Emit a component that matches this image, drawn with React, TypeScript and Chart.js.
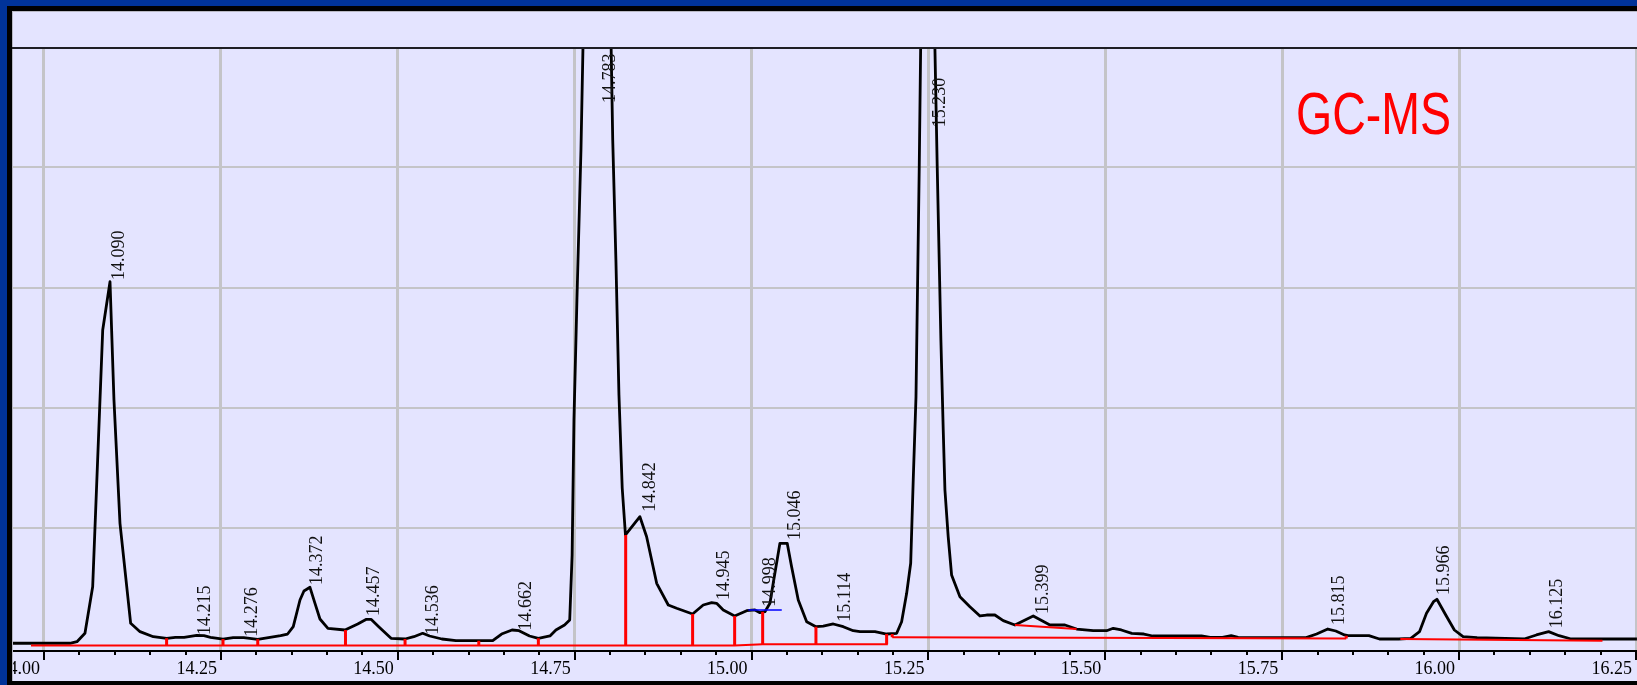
import React, { useEffect, useRef } from "react";
import { Chart, registerables } from "chart.js";

Chart.register(...registerables);

// ---- Chromatogram trace: retention time (min) and abundance (% of full scale) ----
const traceTimes: number[] = [
  13.956, 14.0367, 14.0466, 14.0579, 14.0688, 14.083, 14.0933, 14.0989, 14.1074, 14.1225,
  14.1357, 14.1545, 14.1734, 14.1857, 14.198, 14.2158, 14.2261, 14.2353, 14.253, 14.2674,
  14.2823, 14.3021, 14.3194, 14.3344, 14.3443, 14.3523, 14.3618, 14.3674, 14.3759, 14.383,
  14.39, 14.4013, 14.4254, 14.4434, 14.4557, 14.4622, 14.4731, 14.4905, 14.5103, 14.5227,
  14.5352, 14.545, 14.5623, 14.5822, 14.6342, 14.6467, 14.6615, 14.6714, 14.6862, 14.6987,
  14.7151, 14.7235, 14.7357, 14.743, 14.7464, 14.749, 14.7532, 14.7589, 14.7829, 14.8038,
  14.8083, 14.8126, 14.8172, 14.8218, 14.8422, 14.8517, 14.8659, 14.8823, 14.8941, 14.9167,
  14.9317, 14.9436, 14.9506, 14.96, 14.9761, 14.9931, 15.0048, 15.0119, 15.0189, 15.026,
  15.0306, 15.0401, 15.0504, 15.0566, 15.066, 15.0779, 15.091, 15.1013, 15.1155, 15.1296,
  15.1437, 15.1532, 15.1744, 15.1909, 15.2051, 15.2121, 15.2192, 15.2249, 15.2285, 15.2324,
  15.237, 15.2466, 15.2624, 15.2676, 15.2709, 15.2733, 15.2779, 15.2827, 15.2945, 15.3086,
  15.3228, 15.3322, 15.3439, 15.3557, 15.3722, 15.3981, 15.4217, 15.4429, 15.4594, 15.4829,
  15.5018, 15.5112, 15.5226, 15.5374, 15.5545, 15.5669, 15.6359, 15.6482, 15.6655, 15.6779,
  15.6877, 15.7839, 15.7986, 15.8144, 15.8257, 15.838, 15.843, 15.8725, 15.8874, 15.9145,
  15.9317, 15.944, 15.9539, 15.9638, 15.9686, 15.9811, 15.9933, 16.0056, 16.0254, 16.0918,
  16.1092, 16.1265, 16.1412, 16.1584, 16.2513,
];
const traceLevels: number[] = [
  0.82, 0.82, 1.08, 2.48, 10.23, 52.95, 60.98, 41.3, 20.78, 4.14,
  2.75, 1.91, 1.65, 1.81, 1.81, 2.15, 2.08, 1.81, 1.5, 1.75,
  1.75, 1.48, 1.81, 2.08, 2.36, 3.58, 8.02, 9.52, 10.13, 7.47,
  4.86, 3.31, 3.03, 4.03, 4.81, 4.81, 3.58, 1.65, 1.53, 1.91,
  2.48, 2.03, 1.53, 1.25, 1.25, 2.36, 3.03, 2.91, 2.03, 1.65,
  2.03, 3.03, 3.86, 4.69, 15.51, 37.97, 57.94, 82.89, 227.2, 84.56,
  64.59, 42.13, 26.66, 18.84, 21.88, 18.55, 10.8, 7.19, 6.64, 5.69,
  7.19, 7.57, 7.47, 6.36, 5.36, 6.24, 6.36, 5.91, 6.07, 7.47,
  10.8, 17.45, 17.45, 13.56, 8.02, 4.41, 3.58, 3.69, 4.03, 3.58,
  2.91, 2.75, 2.75, 2.36, 2.48, 4.41, 9.13, 14.13, 27.99, 41.85,
  80.12, 175.9, 80.12, 51.28, 36.31, 26.32, 18.55, 12.18, 8.57, 6.91,
  5.36, 5.52, 5.52, 4.58, 3.86, 5.36, 3.86, 3.86, 3.19, 2.91,
  2.91, 3.31, 3.03, 2.48, 2.36, 2.03, 2.03, 1.81, 1.81, 2.08,
  1.81, 1.75, 2.36, 3.19, 2.86, 2.2, 2.08, 2.08, 1.53, 1.53,
  1.65, 2.75, 5.81, 7.74, 8.14, 5.52, 3.03, 1.91, 1.75, 1.53,
  2.2, 2.75, 2.08, 1.53, 1.53,
];

// ---- Integration baselines (runs of [time, level]) ----
const baselineRuns: number[][][] = [
  [[13.9816, 0.45], [14.9761, 0.45], [15.0157, 0.65], [15.1926, 0.65]],
  [[15.1988, 1.81], [15.8405, 1.61]],
  [[15.3722, 3.86], [15.4594, 3.19]],
  [[15.9169, 1.53], [16.2026, 1.25]],
];

// ---- Peak boundary drop lines ----
const dropTimes: number[] = [14.1733, 14.253, 14.3021, 14.4261, 14.5103, 14.6145, 14.6987, 14.8221, 14.9167, 14.9761, 15.0157, 15.091, 15.1909, 15.1988, 15.8405];
const dropFrom: number[] = [0.45, 0.45, 0.45, 0.45, 0.45, 0.45, 0.45, 0.45, 0.45, 0.45, 0.65, 0.65, 0.65, 1.81, 1.61];
const dropTo: number[] = [1.65, 1.53, 1.48, 3.03, 1.53, 1.25, 1.65, 18.84, 5.69, 5.36, 6.07, 3.58, 2.36, 2.36, 2.08];

// ---- Tangent skim marker (blue) ----
const skimTimes: number[] = [14.9955, 15.0427];
const skimLevels: number[] = [6.36, 6.36];

// ---- Peak retention-time labels ----
const peakLabels: string[] = ["14.090", "14.215", "14.276", "14.372", "14.457", "14.536", "14.662", "14.783", "14.842", "14.945", "14.998", "15.046", "15.114", "15.230", "15.399", "15.815", "15.966", "16.125"];
const peakLabelTimes: number[] = [14.0957, 14.2181, 14.2841, 14.3759, 14.4572, 14.5399, 14.6711, 14.7896, 14.847, 14.9507, 15.0157, 15.0519, 15.1225, 15.2559, 15.4026, 15.8208, 15.9686, 16.1289];
const peakLabelLevels: number[] = [61.26, 2.2, 1.9, 10.52, 5.36, 2.23, 2.93, 90.72, 22.71, 8.02, 6.91, 18.0, 4.41, 86.67, 5.69, 3.86, 8.85, 3.31];

// ---- Axes ----
const majorTicks: number[] = [14.0, 14.25, 14.5, 14.75, 15.0, 15.25, 15.5, 15.75, 16.0, 16.25];
const minorTickStep = 0.05;
const levelGrid: number[] = [20, 40, 60, 80];
const xMin = 13.9562;
const xMax = 16.2514;
const yMin = -0.3;
const yMax = 99.87;
const chartTag = "GC-MS";

const BG = "#E4E4FF";
const BLUE = "#003399";
const GRID = "#C4C4C8";
const SERIF = '"Liberation Serif", "Times New Roman", serif';

export default function App() {
  const ref = useRef<HTMLCanvasElement | null>(null);

  useEffect(() => {
    document.body.style.margin = "0";
    document.body.style.overflow = "hidden";
    const canvas = ref.current;
    if (!canvas) return;

    const tracePts = traceTimes.map((t, i) => ({ x: t, y: traceLevels[i] }));
    const basePts: any[] = [];
    baselineRuns.forEach((run) => {
      run.forEach(([t, l]) => basePts.push({ x: t, y: l }));
      basePts.push({ x: run[run.length - 1][0], y: null });
    });
    const dropPts: any[] = [];
    dropTimes.forEach((t, i) => {
      dropPts.push({ x: t, y: dropFrom[i] }, { x: t, y: dropTo[i] }, { x: t, y: null });
    });
    const skimPts = skimTimes.map((t, i) => ({ x: t, y: skimLevels[i] }));

    const framePlugin = {
      id: "chromFrame",
      beforeDraw(chart: any) {
        const { ctx, width, height } = chart;
        ctx.save();
        ctx.fillStyle = BG;
        ctx.fillRect(0, 0, width, height);
        ctx.restore();
      },
      afterDatasetsDraw(chart: any) {
        const { ctx, scales } = chart;
        const xs = scales.x;
        const ys = scales.y;
        ctx.save();
        ctx.font = `18px ${SERIF}`;
        ctx.fillStyle = "#111";
        ctx.textAlign = "left";
        ctx.textBaseline = "alphabetic";
        peakLabels.forEach((txt, i) => {
          const px = xs.getPixelForValue(peakLabelTimes[i]);
          const py = ys.getPixelForValue(peakLabelLevels[i]);
          ctx.save();
          ctx.translate(px, py);
          ctx.rotate(-Math.PI / 2);
          ctx.fillText(txt, 0, 12);
          ctx.restore();
        });
        ctx.restore();
      },
      afterDraw(chart: any) {
        const { ctx, width: W, height: H, chartArea: a, scales } = chart;
        const xs = scales.x;
        ctx.save();
        // x axis line
        ctx.fillStyle = "#000";
        ctx.fillRect(12, a.bottom, W, 2);
        // tick marks
        const first = majorTicks[0];
        const last = majorTicks[majorTicks.length - 1];
        const n = Math.round((last - first) / minorTickStep);
        for (let i = 0; i <= n; i++) {
          const v = first + i * minorTickStep;
          const isMajor = majorTicks.some((m) => Math.abs(m - v) < 1e-6);
          const px = Math.round(xs.getPixelForValue(v));
          ctx.fillRect(px - 1, a.bottom, 2, isMajor ? 10 : 5);
        }
        // tick labels (right-aligned just left of each major tick)
        ctx.font = `18px ${SERIF}`;
        ctx.textAlign = "right";
        ctx.textBaseline = "alphabetic";
        majorTicks.forEach((v) => {
          ctx.fillText(v.toFixed(2), xs.getPixelForValue(v) - 4, a.bottom + 24);
        });
        // tag
        ctx.save();
        ctx.fillStyle = "#FF0000";
        ctx.textAlign = "left";
        ctx.font = '60px "Liberation Sans", Arial, sans-serif';
        const tw = ctx.measureText(chartTag).width;
        ctx.translate(1296, 134);
        ctx.scale(155 / tw, 1);
        ctx.fillText(chartTag, 0, 0);
        ctx.restore();
        // frame
        ctx.fillStyle = BLUE;
        ctx.fillRect(0, 0, W, 6);
        ctx.fillRect(0, 0, 7, H);
        ctx.fillStyle = "#000";
        ctx.fillRect(7, 6, W, 5);
        ctx.fillRect(7, 6, 5, H);
        ctx.fillRect(7, H - 4, W, 4);
        ctx.fillStyle = "#B8B8C4";
        ctx.fillRect(12, 11, W, 1);
        ctx.fillRect(12, 11, 1, H - 15);
        ctx.fillStyle = "#1E1E24";
        ctx.fillRect(12, a.top - 1, W, 2);
        ctx.restore();
      },
    };

    const chart = new Chart(canvas, {
      type: "line",
      data: {
        datasets: [
          { label: "skim", data: skimPts, borderColor: "#0000FF", borderWidth: 1.5, pointRadius: 0, order: 0, clip: 0 } as any,
          { label: "drops", data: dropPts, borderColor: "#FF0000", borderWidth: 3, pointRadius: 0, spanGaps: false, order: 1, clip: 0, borderCapStyle: "butt" } as any,
          { label: "baseline", data: basePts, borderColor: "#FF0000", borderWidth: 2, pointRadius: 0, spanGaps: false, order: 2, clip: 0 } as any,
          { label: "TIC", data: tracePts, borderColor: "#000000", borderWidth: 2.8, pointRadius: 0, order: 3, clip: 0, borderJoinStyle: "round" } as any,
        ],
      },
      options: {
        animation: false,
        responsive: false,
        devicePixelRatio: 1,
        layout: { padding: { left: 13, top: 48, right: 0, bottom: 0 } },
        plugins: { legend: { display: false }, tooltip: { enabled: false }, title: { display: false } },
        elements: { line: { tension: 0, fill: false }, point: { radius: 0, hitRadius: 0 } },
        events: [],
        scales: {
          x: {
            type: "linear",
            position: "bottom",
            min: xMin,
            max: xMax,
            afterBuildTicks: (s: any) => { s.ticks = majorTicks.map((v) => ({ value: v })); },
            afterFit: (s: any) => { s.height = 35; },
            ticks: { display: false },
            grid: { color: GRID, lineWidth: 3, drawTicks: false },
            border: { display: false },
          },
          y: {
            type: "linear",
            position: "left",
            min: yMin,
            max: yMax,
            afterBuildTicks: (s: any) => { s.ticks = levelGrid.map((v) => ({ value: v })); },
            afterFit: (s: any) => { s.width = 0; },
            ticks: { display: false },
            grid: { color: GRID, lineWidth: 2, drawTicks: false },
            border: { display: false },
          },
        },
      } as any,
      plugins: [framePlugin],
    });
    return () => chart.destroy();
  }, []);

  return <canvas ref={ref} width={1637} height={685} style={{ display: "block" }} />;
}
